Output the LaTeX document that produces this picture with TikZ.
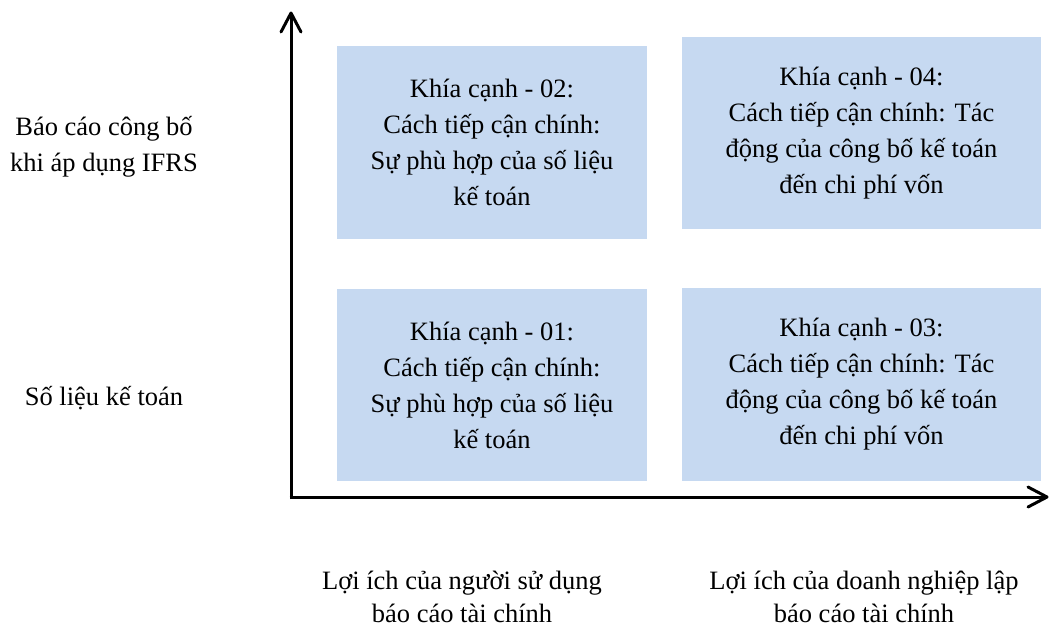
\documentclass[tikz,border=0pt]{standalone}
\usepackage{fontspec}
\setmainfont{Liberation Serif}
\usepackage{tikz}
\definecolor{boxblue}{HTML}{C6D9F1}
\begin{document}
\begin{tikzpicture}[x=1pt,y=1pt]
\tikzstyle{every node}+=[inner sep=0pt]
\tikzset{txt/.style={align=center,font=\fontsize{26.5}{36}\selectfont},
  khia/.style={txt,fill=boxblue,minimum height=192.5},
  loiich/.style={align=center,font=\fontsize{26.5}{33}\selectfont}}
\useasboundingbox (0,0) rectangle (1049,-627);
\node [khia,minimum width=310] (k02) at (492,-142.5) {Khía cạnh - 02:\\Cách tiếp cận chính:\\Sự phù hợp của số liệu\\kế toán};
\node [khia,minimum width=359] (k04) at (861.5,-133) {Khía cạnh - 04:\\Cách tiếp cận chính: Tác\\động của công bố kế toán\\đến chi phí vốn};
\node [khia,minimum width=310] (k01) at (492,-385) {Khía cạnh - 01:\\Cách tiếp cận chính:\\Sự phù hợp của số liệu\\kế toán};
\node [khia,minimum width=359] (k03) at (861.5,-384.5) {Khía cạnh - 03:\\Cách tiếp cận chính: Tác\\động của công bố kế toán\\đến chi phí vốn};
\node [txt] (baocao) at (104,-147) {Báo cáo công bố\\khi áp dụng IFRS};
\node [txt] (solieu) at (104,-398) {Số liệu kế toán};
\node [loiich] (loiich1) at (462,-597) {Lợi ích của người sử dụng\\báo cáo tài chính};
\node [loiich] (loiich2) at (864,-597) {Lợi ích của doanh nghiệp lập\\báo cáo tài chính};
\coordinate (o) at (291,-497);
\coordinate (ytip) at (291,-13);
\coordinate (xtip) at (1047,-497);
\draw [black,line width=3] (o) ++(0,-2) -- (ytip);
\draw [black,line width=3,line cap=round,line join=round] (ytip) ++(-10,-19) -- (ytip) -- ++(10,-19);
\draw [black,line width=3] (o) ++(-1.5,0) -- (xtip);
\draw [black,line width=3,line cap=round,line join=round] (xtip) ++(-19,10) -- (xtip) -- ++(-19,-10);
\end{tikzpicture}
\end{document}
